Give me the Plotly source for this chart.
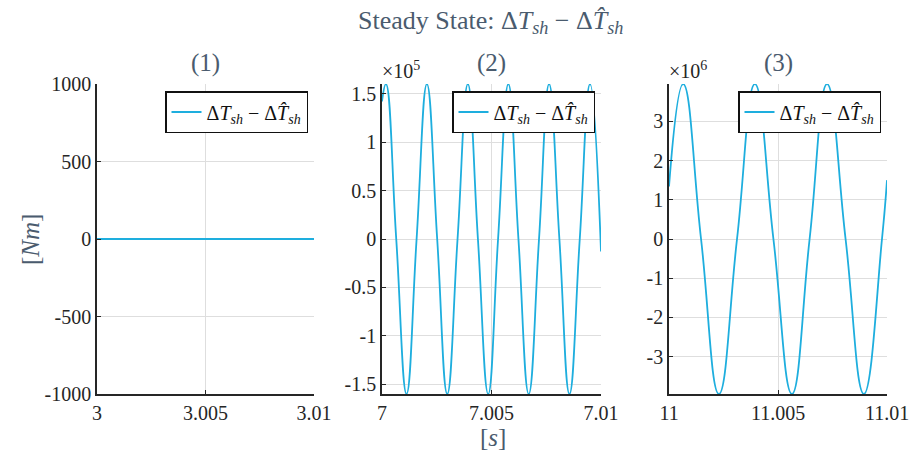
import plotly.graph_objects as go

# ---------------- data ----------------
# Panel 1: time [s] and value [Nm]
t1 = [3.0, 3.0025, 3.005, 3.0075, 3.01]
v1 = [0, 0, 0, 0, 0]

# Panel 2: time [s] and value [x1e5 Nm] (peaks, zero crossings, troughs)
t2 = [7.0, 7.00018, 7.00065, 7.00112, 7.00158, 7.00205, 7.00252, 7.00298,
      7.00345, 7.00392, 7.00438, 7.00485, 7.0053, 7.00577, 7.00623, 7.0067,
      7.00717, 7.00763, 7.0081, 7.00856, 7.00903, 7.0095, 7.01]
v2 = [1.42, 1.6, 0, -1.6, 0, 1.6, 0, -1.6,
      0, 1.6, 0, -1.6, 0, 1.6, 0, -1.6,
      0, 1.6, 0, -1.6, 0, 1.6, -0.13]

# Panel 3: time [s] and value [x1e6 Nm]
t3 = [11.0, 11.00065, 11.00147, 11.00229, 11.00312, 11.00394, 11.00479,
      11.00564, 11.00645, 11.00725, 11.0081, 11.00894, 11.00977, 11.01]
v3 = [1.34, 3.95, 0, -3.95, 0, 3.95, 0,
      -3.95, 0, 3.95, 0, -3.95, 0, 1.5]

xticks1 = [3, 3.005, 3.01]
xticks2 = [7, 7.005, 7.01]
xticks3 = [11, 11.005, 11.01]
xticklabels1 = ["3", "3.005", "3.01"]
xticklabels2 = ["7", "7.005", "7.01"]
xticklabels3 = ["11", "11.005", "11.01"]
yticks1 = [-1000, -500, 0, 500, 1000]
yticklabels1 = ["-1000", "-500", "0", "500", "1000"]
yticks2 = [-1.5, -1, -0.5, 0, 0.5, 1, 1.5]
yticklabels2 = ["-1.5", "-1", "-0.5", "0", "0.5", "1", "1.5"]
yticks3 = [-3, -2, -1, 0, 1, 2, 3]
yticklabels3 = ["-3", "-2", "-1", "0", "1", "2", "3"]

subtitles = ["(1)", "(2)", "(3)"]
exponents = [None, "5", "6"]

# ---------------- styling ----------------
W, H = 910, 463
LINE = "#1eaede"
TXT = "#262626"
TITLE_C = "#4a5b6e"
FONT = "Liberation Serif"
GRID = "#dedede"

legend_text = "Δ<i>T</i><sub><i>sh</i></sub> − Δ<i>T\u0302</i><sub><i>sh</i></sub>"

px_x = [(97, 314), (382, 601), (669, 887)]
px_y = (84, 394)

fig = go.Figure()

data = [(t1, v1), (t2, v2), (t3, v3)]
for i, (t, v) in enumerate(data):
    suf = "" if i == 0 else str(i + 1)
    fig.add_trace(go.Scatter(
        x=t, y=v, mode="lines",
        line=dict(color=LINE, width=1.8, shape="spline" if i > 0 else "linear", smoothing=1.3),
        name=legend_text, xaxis="x" + suf, yaxis="y" + suf,
        legend="legend" + suf, showlegend=True,
    ))

ranges_x = [[3, 3.01], [7, 7.01], [11, 11.01]]
ranges_y = [[-1000, 1000], [-1.6, 1.6], [-3.95, 3.95]]
xt = [(xticks1, xticklabels1), (xticks2, xticklabels2), (xticks3, xticklabels3)]
yt = [(yticks1, yticklabels1), (yticks2, yticklabels2), (yticks3, yticklabels3)]

layout = dict(
    width=W, height=H, margin=dict(l=0, r=0, t=0, b=0, autoexpand=False),
    paper_bgcolor="white", plot_bgcolor="white",
    font=dict(family=FONT, color=TXT, size=20),
)
ydom = [1 - px_y[1] / H, 1 - px_y[0] / H]
for i in range(3):
    suf = "" if i == 0 else str(i + 1)
    xdom = [px_x[i][0] / W, px_x[i][1] / W]
    layout["xaxis" + suf] = dict(
        domain=xdom, range=ranges_x[i], anchor="y" + suf, automargin=False,
        tickvals=xt[i][0], ticktext=xt[i][1],
        showgrid=True, gridcolor=GRID, gridwidth=1,
        showline=True, linecolor=TXT, linewidth=1.5,
        ticks="inside", ticklen=4, tickcolor=TXT, tickwidth=1,
        zeroline=False, tickfont=dict(size=20, color=TXT, family=FONT),
        fixedrange=True,
    )
    layout["yaxis" + suf] = dict(
        domain=ydom, range=ranges_y[i], anchor="x" + suf, automargin=False,
        tickvals=yt[i][0], ticktext=yt[i][1],
        showgrid=True, gridcolor=GRID, gridwidth=1,
        showline=True, linecolor=TXT, linewidth=1.5,
        ticks="inside", ticklen=4, tickcolor=TXT, tickwidth=1,
        zeroline=False, tickfont=dict(size=20, color=TXT, family=FONT),
        fixedrange=True,
    )
    layout["legend" + suf] = dict(
        x=(px_x[i][1] - 6) / W, xanchor="right", xref="paper",
        y=1 - 91 / H, yanchor="top", yref="paper",
        bgcolor="white", bordercolor="#111111", borderwidth=1.5,
        font=dict(family=FONT, size=20, color="#111111"),
        itemwidth=30, tracegroupgap=0,
    )

annotations = [
    dict(text="Steady State: Δ<i>T</i><sub><i>sh</i></sub> − Δ<i>T\u0302</i><sub><i>sh</i></sub>",
         x=490 / W, y=1 - 22 / H, xref="paper", yref="paper",
         showarrow=False, font=dict(size=26, color=TITLE_C, family=FONT),
         xanchor="center", yanchor="middle"),
    dict(text="[<i>Nm</i>]", x=30 / W, y=1 - 240 / H, xref="paper", yref="paper",
         showarrow=False, textangle=-90, font=dict(size=25, color=TITLE_C, family=FONT),
         xanchor="center", yanchor="middle"),
    dict(text="[<i>s</i>]", x=493 / W, y=1 - 437 / H, xref="paper", yref="paper",
         showarrow=False, font=dict(size=25, color=TITLE_C, family=FONT),
         xanchor="center", yanchor="middle"),
]
for i in range(3):
    cx = (px_x[i][0] + px_x[i][1]) / 2
    annotations.append(dict(
        text=subtitles[i], x=cx / W, y=1 - 63 / H, xref="paper", yref="paper",
        showarrow=False, font=dict(size=25, color=TITLE_C, family=FONT),
        xanchor="center", yanchor="middle"))
    if exponents[i]:
        annotations.append(dict(
            text="×10<sup>" + exponents[i] + "</sup>", x=(px_x[i][0] - 2) / W, y=1 - 70 / H,
            xref="paper", yref="paper", showarrow=False,
            font=dict(size=20, color=TXT, family=FONT),
            xanchor="left", yanchor="middle"))
layout["annotations"] = annotations

fig.update_layout(**layout)
fig.write_html("out.html", config={"displayModeBar": False},
               post_script="document.body.style.margin='0';document.body.style.overflow='hidden';")
